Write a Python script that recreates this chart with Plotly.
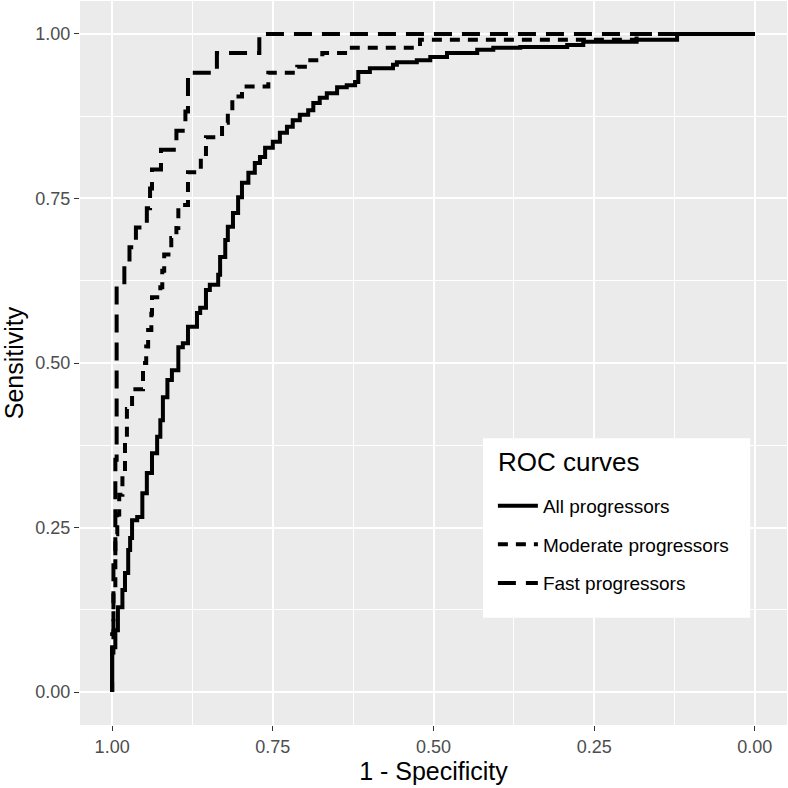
import plotly.graph_objects as go

# ROC curves (x = specificity, shown reversed)
all_spec = [1.000, 1.000, 0.995, 0.991, 0.984, 0.980, 0.975, 0.972, 0.969, 0.961,
            0.953, 0.946, 0.938, 0.930, 0.925, 0.921, 0.914, 0.907, 0.897, 0.890,
            0.882, 0.868, 0.863, 0.854, 0.848, 0.835, 0.832, 0.824, 0.820, 0.812,
            0.804, 0.798, 0.788, 0.778, 0.770, 0.762, 0.750, 0.739, 0.728, 0.719,
            0.708, 0.695, 0.687, 0.677, 0.666, 0.650, 0.635, 0.622, 0.617, 0.599,
            0.563, 0.557, 0.526, 0.505, 0.479, 0.432, 0.407, 0.365, 0.292, 0.267,
            0.184, 0.121, 0.000]
all_sens = [0.000, 0.068, 0.094, 0.129, 0.155, 0.181, 0.216, 0.234, 0.261, 0.266,
            0.302, 0.333, 0.363, 0.388, 0.413, 0.448, 0.474, 0.489, 0.524, 0.530,
            0.555, 0.576, 0.584, 0.611, 0.619, 0.634, 0.661, 0.687, 0.707, 0.728,
            0.752, 0.774, 0.789, 0.804, 0.813, 0.827, 0.836, 0.850, 0.859, 0.869,
            0.877, 0.884, 0.895, 0.903, 0.910, 0.919, 0.922, 0.927, 0.942, 0.948,
            0.953, 0.957, 0.960, 0.965, 0.971, 0.976, 0.979, 0.980, 0.983, 0.988,
            0.991, 1.000, 1.000]

mod_spec = [1.000, 1.000, 0.998, 0.995, 0.992, 0.989, 0.984, 0.980, 0.977, 0.969,
            0.952, 0.947, 0.944, 0.939, 0.938, 0.925, 0.922, 0.919, 0.908, 0.900,
            0.897, 0.882, 0.862, 0.854, 0.829, 0.820, 0.813, 0.798, 0.757, 0.712,
            0.695, 0.673, 0.627, 0.521, 0.184, 0.000]
mod_sens = [0.000, 0.060, 0.150, 0.240, 0.270, 0.300, 0.330, 0.380, 0.430, 0.460,
            0.500, 0.525, 0.550, 0.575, 0.600, 0.615, 0.640, 0.665, 0.690, 0.705,
            0.740, 0.790, 0.812, 0.843, 0.865, 0.880, 0.905, 0.920, 0.941, 0.950,
            0.960, 0.971, 0.979, 0.991, 1.000, 1.000]

fast_spec = [1.000, 1.000, 0.998, 0.995, 0.993, 0.981, 0.973, 0.963, 0.946, 0.941,
             0.938, 0.924, 0.900, 0.886, 0.882, 0.837, 0.771, 0.000]
fast_sens = [0.000, 0.088, 0.206, 0.353, 0.618, 0.647, 0.676, 0.706, 0.735, 0.765,
             0.794, 0.824, 0.853, 0.882, 0.941, 0.971, 1.000, 1.000]

tick_vals = [1.0, 0.75, 0.5, 0.25, 0.0]
tick_text = ["1.00", "0.75", "0.50", "0.25", "0.00"]

fig = go.Figure()

curves = [
    ("All progressors", all_spec, all_sens, "solid"),
    ("Moderate progressors", mod_spec, mod_sens, "10px,8px"),
    ("Fast progressors", fast_spec, fast_sens, "18px,10px"),
]
for name, xs, ys, dash in curves:
    fig.add_trace(go.Scatter(
        x=xs, y=ys, mode="lines", name=name, legendgroup=name,
        line=dict(color="black", width=4, dash=dash, shape="hv"),
    ))

axis_common = dict(
    showline=False, zeroline=False, automargin=False,
    gridcolor="white", gridwidth=2,
    ticks="outside", ticklen=5, tickwidth=1, tickcolor="#333333",
    tickfont=dict(size=18, color="#4D4D4D"),
    tickvals=tick_vals, ticktext=tick_text,
    minor=dict(dtick=0.125, tick0=0, showgrid=True, gridcolor="white", gridwidth=1, ticks=""),
)

fig.update_xaxes(range=[1.05, -0.05],
                 title=dict(text="1 - Specificity", font=dict(size=25, color="black"), standoff=6),
                 **axis_common)
fig.update_yaxes(range=[-0.05, 1.05],
                 title=dict(text="Sensitivity", font=dict(size=25, color="black"), standoff=8),
                 **axis_common)

# legend box (white panel) with its title, entries come from the plotly legend
fig.add_shape(type="rect", xref="paper", yref="paper",
              x0=0.570, x1=0.948, y0=0.148, y1=0.396,
              fillcolor="white", line=dict(width=0), layer="above")
fig.add_annotation(text="ROC curves", xref="paper", yref="paper",
                   x=0.588, y=0.363, xanchor="left", yanchor="middle",
                   showarrow=False, font=dict(size=26, color="black"))

fig.update_layout(
    width=788, height=788,
    margin=dict(l=80, r=1, t=1, b=63),
    plot_bgcolor="#EBEBEB", paper_bgcolor="white",
    font=dict(family="Liberation Sans, Arial, sans-serif"),
    legend=dict(
        x=0.584, y=0.329, xanchor="left", yanchor="top",
        bgcolor="rgba(0,0,0,0)", borderwidth=0,
        font=dict(size=19, color="black"),
        tracegroupgap=11, itemwidth=40,
    ),
)

# drop the default page margin so the figure sits at the window corner
fig.write_html("out.html", config={"displayModeBar": False},
               post_script="document.body.style.margin='0';")
